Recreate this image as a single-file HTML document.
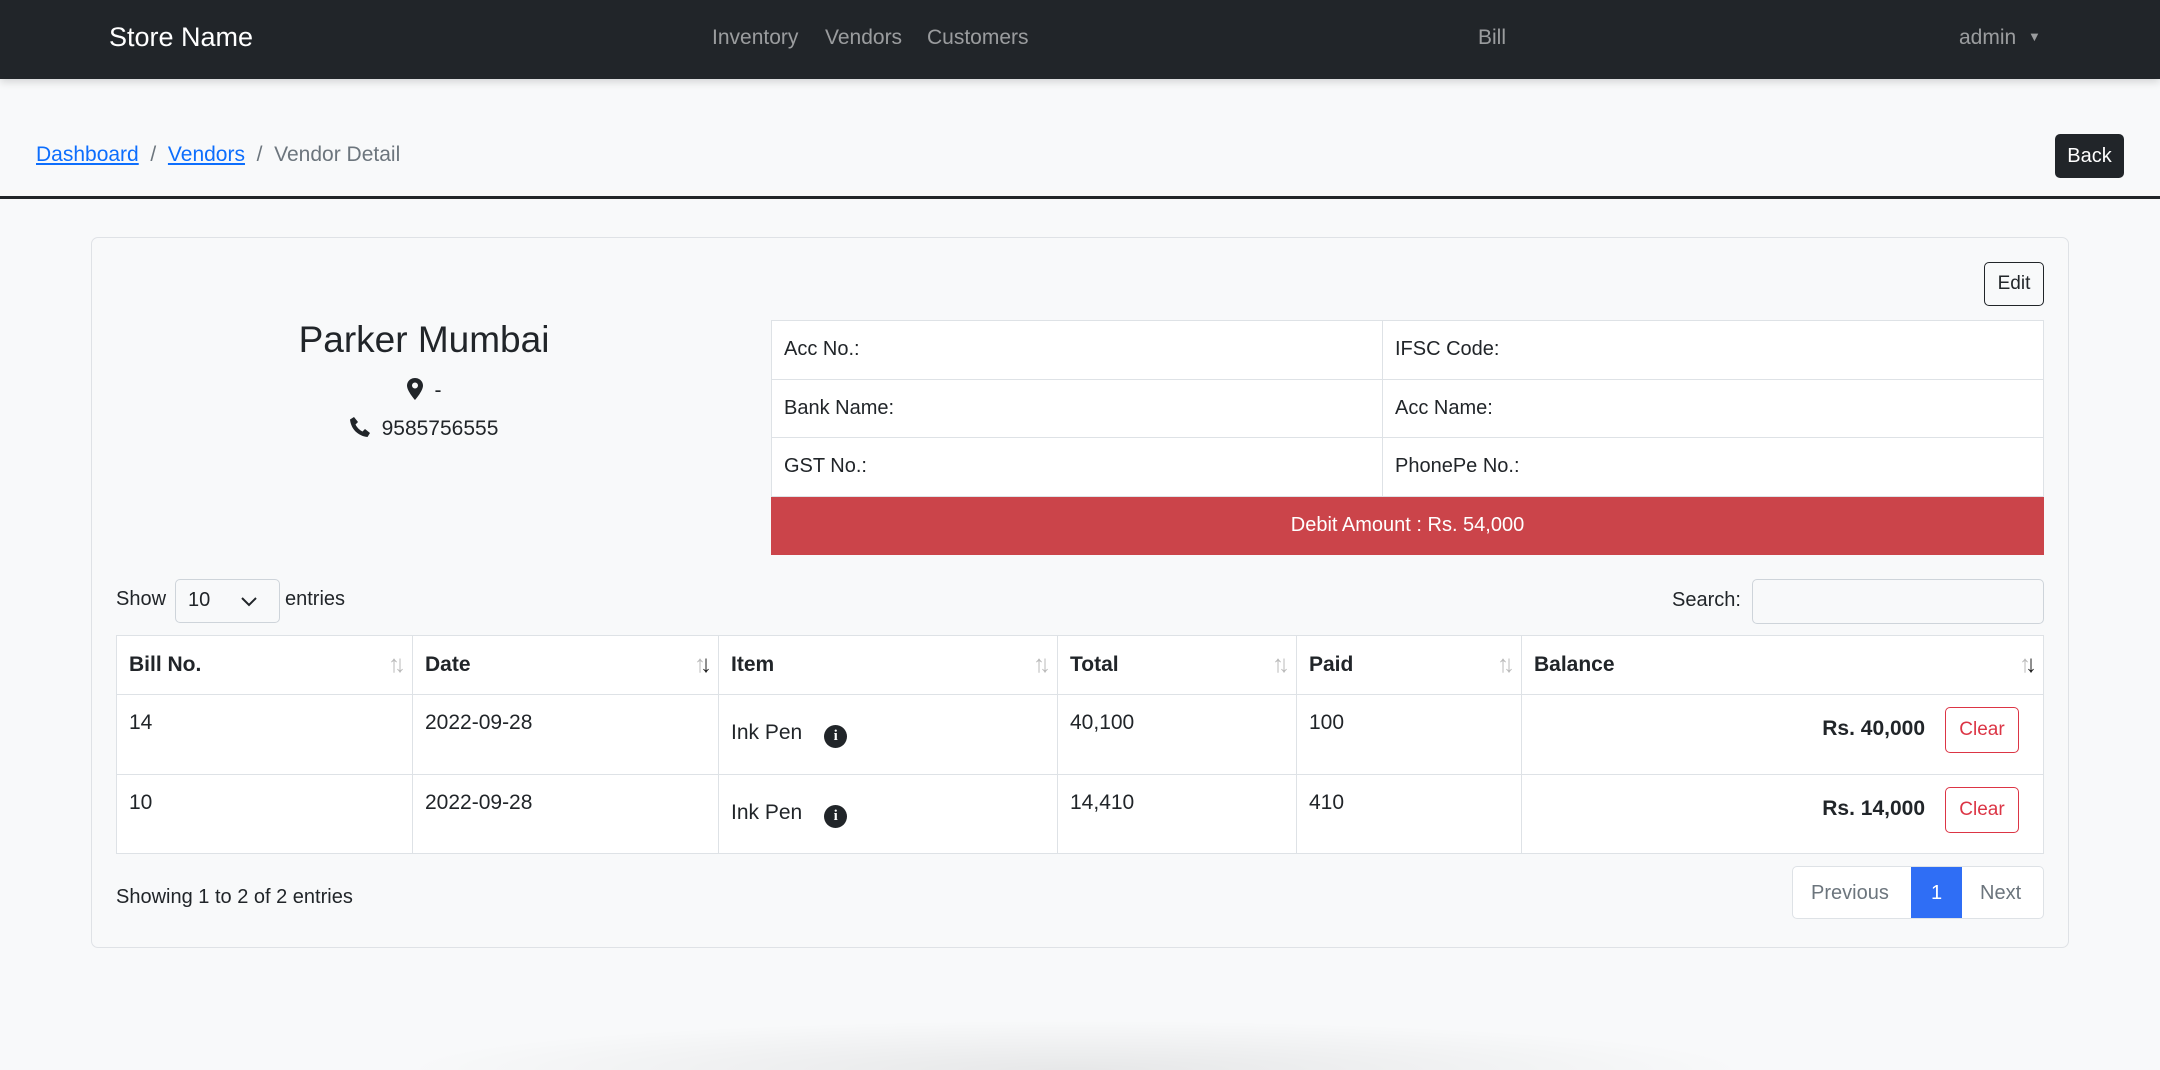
<!DOCTYPE html>
<html><head><meta charset="utf-8"><style>
*{box-sizing:border-box;margin:0;padding:0}
html,body{width:2160px;height:1070px;overflow:hidden}
body{background:#f8f9fa;font-family:"Liberation Sans",sans-serif;color:#212529;position:relative;font-size:21px}
.a{position:absolute;white-space:nowrap}
.nav{position:absolute;left:0;top:0;width:2160px;height:79px;background:#212529;box-shadow:0 3px 8px rgba(0,0,0,.15)}
.nl{color:rgba(255,255,255,.55);font-size:21px;top:26px}
a{color:#0d6efd;text-decoration:underline}
.card{position:absolute;left:91px;top:237px;width:1978px;height:711px;border:1.5px solid #dfe2e6;border-radius:7px;background:#f8f9fa}
table{border-collapse:collapse;position:absolute}
td,th{border:1.5px solid #dee2e6;background:#fff;text-align:left;vertical-align:top}
.info td{height:58.5px;padding:0 12px;vertical-align:middle;font-size:20px}
.dt th{font-weight:bold;height:59px;vertical-align:middle;padding:0 12px;position:relative;font-size:21px}
.dt td{height:79.5px;padding:16px 12px;font-size:21px}
.s{position:absolute;right:12px;top:15px;font-size:24px;color:#bbb;letter-spacing:-6px;font-weight:normal}
.s b{color:#222;font-weight:normal}
.btn{position:absolute;border-radius:5px;text-align:center}
.ic{display:inline-block;width:23px;height:23px;border-radius:50%;background:#212529;color:#fff;font-size:15px;font-weight:bold;text-align:center;line-height:23px;font-family:"Liberation Serif",serif;margin-left:22px;vertical-align:-1px}
</style></head><body>
<div class="nav">
<div class="a" style="left:109px;top:22px;color:#fff;font-size:27px">Store Name</div>
<div class="a nl" style="left:712px">Inventory</div>
<div class="a nl" style="left:825px">Vendors</div>
<div class="a nl" style="left:927px">Customers</div>
<div class="a nl" style="left:1478px">Bill</div>
<div class="a nl" style="left:1959px">admin <span style="font-size:13px;vertical-align:3px;margin-left:6px">▼</span></div>
</div>
<div class="a" style="left:36px;top:143px;font-size:21px;color:#6c757d"><a>Dashboard</a> &nbsp;/&nbsp; <a>Vendors</a> &nbsp;/&nbsp; Vendor Detail</div>
<div class="btn" style="left:2055px;top:134px;width:69px;height:44px;background:#212529;color:#fff;line-height:44px;font-size:20px">Back</div>
<div class="a" style="left:0;top:196px;width:2160px;height:3px;background:#212529"></div>
<div class="card"></div>
<div class="btn" style="left:1984px;top:262px;width:60px;height:44px;border:1.5px solid #212529;line-height:41px;font-size:19px">Edit</div>
<div class="a" style="left:224px;top:319px;width:400px;text-align:center;font-size:37px">Parker Mumbai</div>
<div class="a" style="left:224px;top:378px;width:400px;text-align:center;font-size:21px"><svg width="16" height="22" viewBox="0 0 16 22" style="vertical-align:-3px;margin-right:12px"><path d="M8 0C3.6 0 0 3.4 0 7.6 0 13 8 22 8 22s8-9 8-14.4C16 3.4 12.4 0 8 0zm0 10.5a3 3 0 110-6 3 3 0 010 6z" fill="#212529"/></svg>-</div>
<div class="a" style="left:224px;top:417px;width:400px;text-align:center;font-size:21px"><svg width="20" height="20" viewBox="0 0 20 20" style="vertical-align:-2px;margin-right:12px"><path d="M4 0l4 5-2.5 2.5c1.5 3 4 5.5 7 7L15 12l5 4-2.5 4C8 19 1 12 0 2.5z" fill="#212529"/></svg>9585756555</div>
<table class="info" style="left:771px;top:320px;width:1273px">
<tr><td style="width:611px">Acc No.:</td><td>IFSC Code:</td></tr>
<tr><td>Bank Name:</td><td>Acc Name:</td></tr>
<tr><td>GST No.:</td><td>PhonePe No.:</td></tr>
<tr><td colspan="2" style="background:#cb444a;color:#fff;text-align:center;border-color:#cb444a">Debit Amount : Rs. 54,000</td></tr>
</table>
<div class="a" style="left:116px;top:588px;font-size:20px">Show</div>
<div class="a" style="left:175px;top:579px;width:105px;height:44px;border:1.5px solid #ced4da;border-radius:5px;background:#f8f9fa;font-size:20px;padding:9px 12px">10<svg width="16" height="10" viewBox="0 0 16 10" style="position:absolute;right:22px;top:17px"><path d="M1 1l7 7 7-7" stroke="#212529" stroke-width="2" fill="none"/></svg></div>
<div class="a" style="left:285px;top:588px;font-size:20px">entries</div>
<div class="a" style="left:1672px;top:589px;font-size:20px">Search:</div>
<div class="a" style="left:1752px;top:579px;width:292px;height:45px;border:1.5px solid #ced4da;border-radius:5px;background:#f8f9fa"></div>
<table class="dt" style="left:116px;top:635px;width:1928px">
<tr><th style="width:296px">Bill No.<span class="s">↑↓</span></th><th style="width:306px">Date<span class="s">↑<b>↓</b></span></th><th style="width:339px">Item<span class="s">↑↓</span></th><th style="width:239px">Total<span class="s">↑↓</span></th><th style="width:225px">Paid<span class="s">↑↓</span></th><th>Balance<span class="s">↑<b>↓</b></span></th></tr>
<tr><td>14</td><td>2022-09-28</td><td style="padding-top:26px">Ink Pen<span class="ic">i</span></td><td>40,100</td><td>100</td><td style="position:relative"><span class="a" style="right:118px;top:22px;font-weight:bold;font-size:21px">Rs. 40,000</span><span class="btn" style="right:24px;top:12px;width:74px;height:46px;border:1.5px solid #dc3545;color:#dc3545;line-height:43px;font-size:19px">Clear</span></td></tr>
<tr><td>10</td><td>2022-09-28</td><td style="padding-top:26px">Ink Pen<span class="ic">i</span></td><td>14,410</td><td>410</td><td style="position:relative"><span class="a" style="right:118px;top:22px;font-weight:bold;font-size:21px">Rs. 14,000</span><span class="btn" style="right:24px;top:12px;width:74px;height:46px;border:1.5px solid #dc3545;color:#dc3545;line-height:43px;font-size:19px">Clear</span></td></tr>
</table>
<div class="a" style="left:116px;top:886px;font-size:20px">Showing 1 to 2 of 2 entries</div>
<div class="a" style="left:1792px;top:866px;width:252px;height:53px;border:1.5px solid #dee2e6;border-radius:5px;background:#fff;overflow:hidden;font-size:20px;color:#6c757d">
<span class="a" style="left:18px;top:15px">Previous</span>
<span class="a" style="left:118px;top:0;width:51px;height:53px;background:#2f6ef5;color:#fff;text-align:center;line-height:52px">1</span>
<span class="a" style="left:187px;top:15px">Next</span>
</div>
<div class="a" style="left:400px;top:1020px;width:1350px;height:50px;background:radial-gradient(ellipse 50% 100% at 50% 100%,rgba(0,0,0,.07),rgba(0,0,0,0))"></div>
</body></html>
